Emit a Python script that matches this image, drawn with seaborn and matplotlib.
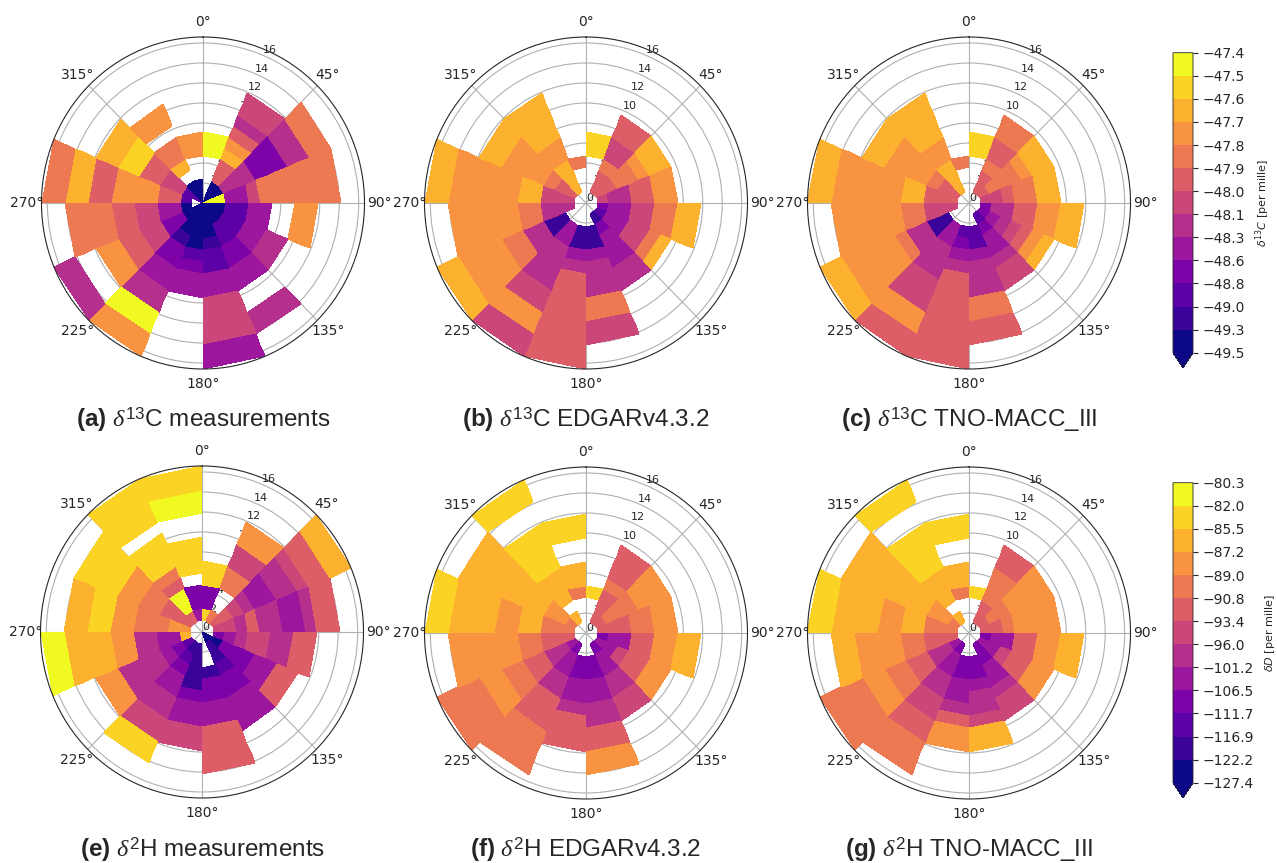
import numpy as np
import matplotlib
matplotlib.use("Agg")
import matplotlib.pyplot as plt
from matplotlib.colors import BoundaryNorm
import seaborn as sns

# ---------------- data ----------------
dir_edges_deg = [0, 22.5, 45, 67.5, 90, 112.5, 135, 157.5, 180,
                 202.5, 225, 247.5, 270, 292.5, 315, 337.5, 360]   # 16 sectors
speed_edges = [0, 1.19, 2.37, 3.56, 4.74, 5.93, 7.11, 8.3, 9.49,
               10.67, 11.86, 13.04, 14.23, 15.41, 16.6]            # 14 speed bins
levels_d13c = [-49.5, -49.3, -49.0, -48.8, -48.6, -48.3, -48.1, -48.0,
               -47.9, -47.8, -47.7, -47.6, -47.5, -47.4]
levels_dD = [-127.4, -122.2, -116.9, -111.7, -106.5, -101.2, -96.0, -93.4,
             -90.8, -89.0, -87.2, -85.5, -82.0, -80.3]
theta_labels = ["0°", "45°", "90°", "135°", "180°", "225°", "270°", "315°"]
r_ticks = [0, 2, 4, 6, 8, 10, 12, 14, 16]

# colour class (0..c = level interval, '.' = no data) per sector (rows)
# and wind-speed bin (characters, inner -> outer)
d13c_meas = [
    "....cc........", "0077a97566....", "005553335588..", "cc4468888888..",
    "002244..99....", "00224455......", "00223344..55..", "00012244666644",
    "00002344......", "0001334455cc99", "0033667799..55", ".04466778888..",
    ".277999977aa88", "226677bbaa....", "00.a88.99.....", "00..99........",
]
d13c_edgar = [
    "....bb........", ".7786677......", ".77889aa......", ".6557799......",
    ".3446688aa....", ".244668a......", ".1344455......", "..1145558866..",
    "..114577777777", "..445555669966", "..1155889999aa", ".55588999999..",
    ".666aa999999aa", ".7789999aa....", ".aaa99aaaa....", "...8..........",
]
d13c_tno = [
    "....bb........", ".7787788......", ".78889aa......", ".66788aa......",
    ".3557799aa....", ".345679a......", ".2344566......", "..2245558877..",
    "..234577777777", "..445556669977", "..1155899999aa", ".66688999999..",
    ".777aa999999aa", ".7789999aa....", ".aaa99aaaa....", "...8..........",
]
dD_meas = [
    ".b33bb........", ".8..886699....", ".77654455677aa", ".66575544577..",
    ".345665577....", "003334477.....", "011233444.....", "...133447777..",
    ".111134466....", ".123445566bb..", ".234555599....", ".a445599aaaacc",
    ".9988899bbaa..", ".7778899bbbb..", ".7cc78bbb.bbbb", ".433.bbb..ccbb",
]
dD_edgar = [
    "...b..........", ".7778777......", ".7888999......", ".7778899......",
    ".3447799aa....", ".4467799......", ".3445566......", "..3344557799..",
    "..33445777....", ".344557778888.", ".4557788998888", ".77788999999..",
    ".888aa99aaaabb", ".899aaaaaaaa..", ".a.aaabbbb..bb", "...8aa..bb....",
]
dD_tno = [
    "...b..........", ".7788877......", ".7889999......", ".7789999......",
    ".3447799aa....", ".4467799......", ".3344566......", "..334556aa....",
    "..33445799....", ".344556677888.", ".4557788998888", ".777889999aa..",
    ".888aa99aaaabb", ".899aaaaaaaa..", ".a.aaabbbb..bb", "...8aa..bb....",
]

captions = [
    (r"$\mathbf{(a)}$ $\delta^{\mathrm{13}}$C measurements", d13c_meas, levels_d13c),
    (r"$\mathbf{(b)}$ $\delta^{\mathrm{13}}$C EDGARv4.3.2", d13c_edgar, levels_d13c),
    (r"$\mathbf{(c)}$ $\delta^{\mathrm{13}}$C TNO-MACC_III", d13c_tno, levels_d13c),
    (r"$\mathbf{(e)}$ $\delta^{\mathrm{2}}$H measurements", dD_meas, levels_dD),
    (r"$\mathbf{(f)}$ $\delta^{\mathrm{2}}$H EDGARv4.3.2", dD_edgar, levels_dD),
    (r"$\mathbf{(g)}$ $\delta^{\mathrm{2}}$H TNO-MACC_III", dD_tno, levels_dD),
]


def decode(rows, lev):
    mids = [(lev[i] + lev[i + 1]) / 2 for i in range(len(lev) - 1)]
    arr = np.full((len(speed_edges) - 1, len(dir_edges_deg) - 1), np.nan)
    for s, row in enumerate(rows):
        for b, ch in enumerate(row[:arr.shape[0]]):
            if ch != ".":
                arr[b, s] = mids[int(ch, 16)]
    return np.ma.masked_invalid(arr)


# ---------------- figure ----------------
sns.set_style("white")
plt.rcParams["font.family"] = ["DejaVu Sans"]
plt.rcParams["mathtext.fontset"] = "custom"
plt.rcParams["mathtext.rm"] = "Liberation Sans"
plt.rcParams["mathtext.bf"] = "Liberation Sans:bold"
plt.rcParams["mathtext.it"] = "Liberation Serif:italic"

W, H = 1277, 863
fig = plt.figure(figsize=(W / 100, H / 100), dpi=100)
fig.patch.set_facecolor("white")
cmap = sns.color_palette("plasma", as_cmap=True)

centers = [(203, 203), (586, 203), (969, 203), (202, 632), (586, 633), (969, 633)]
cap_y = [420, 420, 420, 850, 850, 850]
RX, RY = 161.5, 166
theta_edges = np.deg2rad(dir_edges_deg)
mappables = {}
for i, ((cx, cy), (cap, rows, lev)) in enumerate(zip(centers, captions)):
    ax = fig.add_axes([(cx - RX) / W, 1 - (cy + RY) / H, 2 * RX / W, 2 * RY / H],
                      projection="polar")
    ax.set_aspect("auto")
    norm = BoundaryNorm(lev, cmap.N)
    C = decode(rows, lev)
    m = ax.pcolormesh(theta_edges, speed_edges, C, cmap=cmap, norm=norm,
                      shading="flat")
    mappables[i // 3] = m
    ax.set_theta_zero_location("N")
    ax.set_theta_direction(-1)
    ax.set_ylim(0, speed_edges[-1])
    ax.set_rticks(r_ticks)
    ax.set_rlabel_position(22.5)
    ax.set_thetagrids(np.arange(0, 360, 45), theta_labels, fontsize=10)
    ax.tick_params(axis="y", labelsize=8)
    ax.tick_params(axis="x", pad=0.5)
    ax.grid(True, color="#b0b0b0", linewidth=0.8)
    ax.spines["polar"].set_linewidth(0.8)
    ax.set_facecolor("white")
    fig.text(cx / W, 1 - cap_y[i] / H, cap, ha="center", va="center",
             fontsize=17.5, family="Liberation Sans")

cb_labels = [r"$\delta^{13}C$ [per mille]", r"$\delta D$ [per mille]"]
cb_top = [52.7, 482.7]
for k, lev in enumerate([levels_d13c, levels_dD]):
    cax = fig.add_axes([1173 / W, 1 - (cb_top[k] + 315) / H, 20 / W, 315 / H])
    cb = fig.colorbar(mappables[k], cax=cax, extend="min", ticks=lev)
    cb.ax.set_yticklabels([f"{v:.1f}".replace("-", "\u2212") for v in lev])
    cb.ax.tick_params(labelsize=10)
    cb.set_label(cb_labels[k], fontsize=8, labelpad=6, math_fontfamily="dejavusans")
    cb.outline.set_linewidth(0.6)

fig.savefig("out.png", dpi=100, facecolor="white")
